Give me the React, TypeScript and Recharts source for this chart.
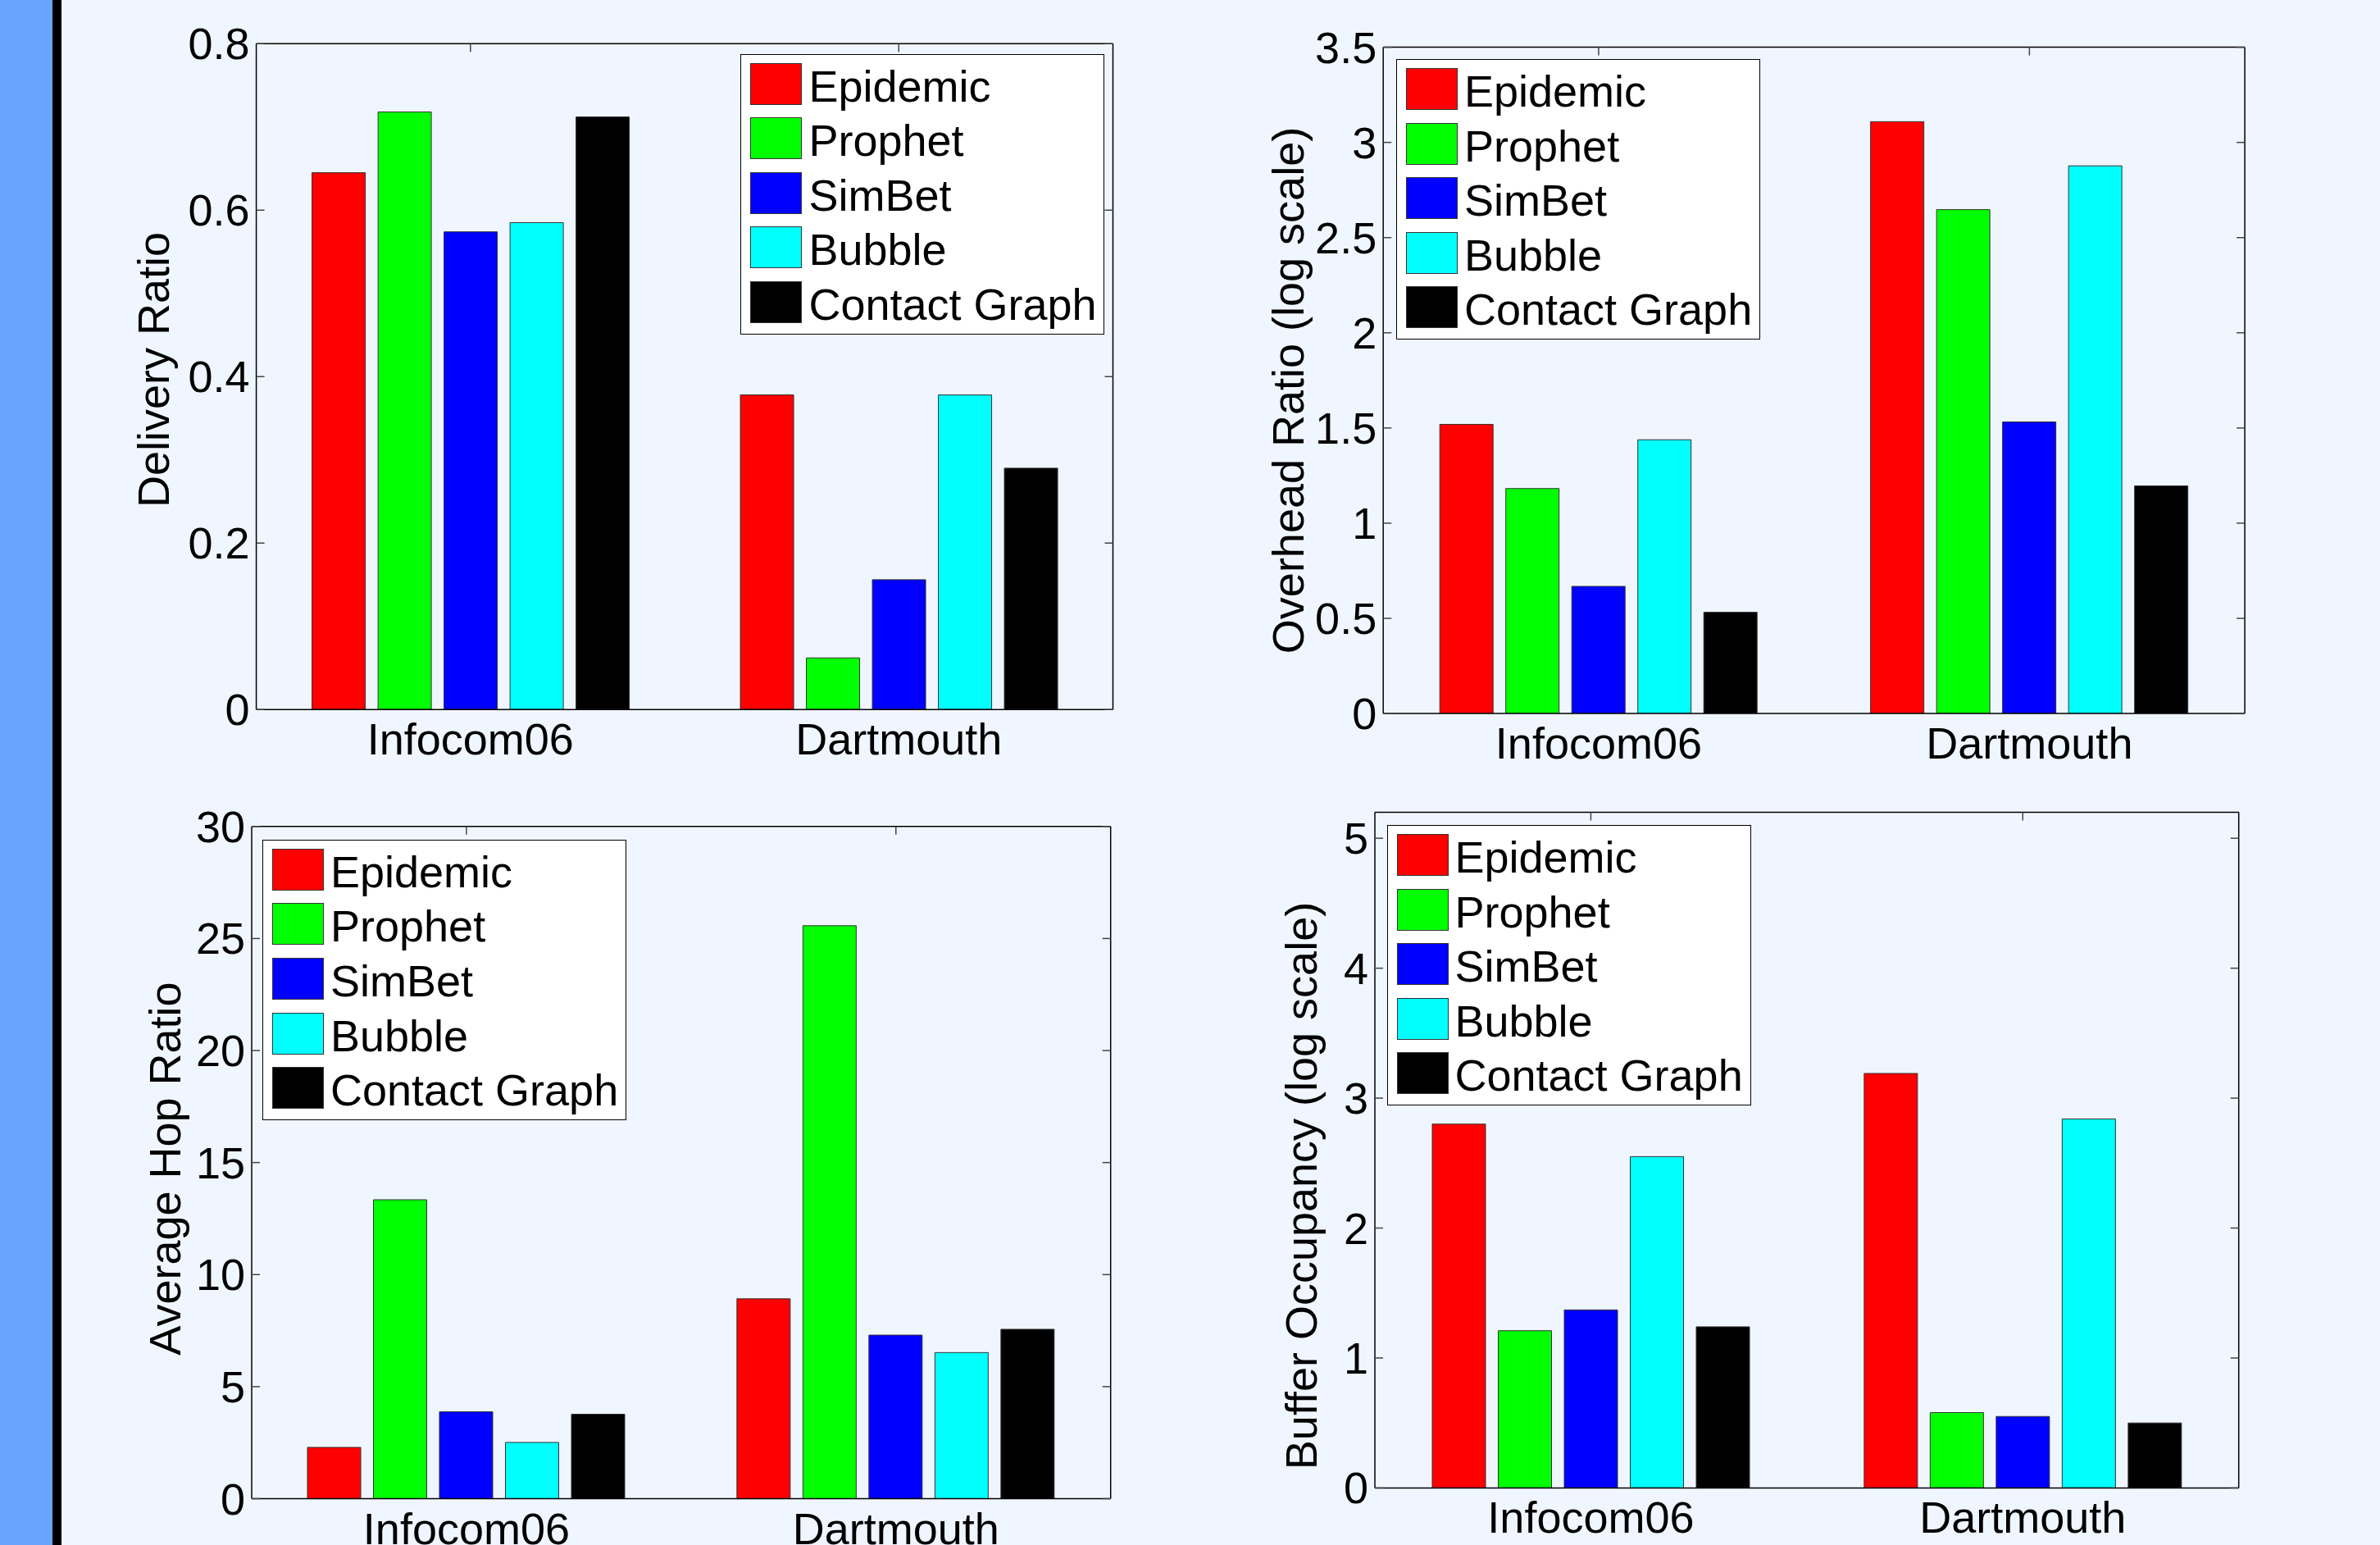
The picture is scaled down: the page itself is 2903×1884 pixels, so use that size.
import React from 'react';
import { BarChart, Bar, XAxis, YAxis, Legend } from 'recharts';

const categories = ['Infocom06', 'Dartmouth'];
const protocols = ['Epidemic', 'Prophet', 'SimBet', 'Bubble', 'Contact Graph'];
const protocolColors = ['#FF0000', '#00FF00', '#0000FF', '#00FFFF', '#000000'];

// one value per protocol, same order as protocols
const deliveryInfocom = [0.645, 0.718, 0.574, 0.585, 0.712];
const deliveryDartmouth = [0.378, 0.062, 0.156, 0.378, 0.29];
const overheadInfocom = [1.519, 1.182, 0.668, 1.438, 0.532];
const overheadDartmouth = [3.109, 2.647, 1.532, 2.877, 1.196];
const hopInfocom = [2.29, 13.34, 3.88, 2.51, 3.77];
const hopDartmouth = [8.92, 25.57, 7.3, 6.52, 7.56];
const bufferInfocom = [2.8, 1.21, 1.37, 2.55, 1.24];
const bufferDartmouth = [3.19, 0.58, 0.55, 2.84, 0.5];

const deliveryTicks = [0, 0.2, 0.4, 0.6, 0.8];
const overheadTicks = [0, 0.5, 1, 1.5, 2, 2.5, 3, 3.5];
const hopTicks = [0, 5, 10, 15, 20, 25, 30];
const bufferTicks = [0, 1, 2, 3, 4, 5];

const W = 2903;
const H = 1884;
const FONT = '"Liberation Sans", Arial, Helvetica, sans-serif';
const FS = 54;

const makeRows = (infocom: number[], dartmouth: number[]) =>
  categories.map((name, i) => {
    const vals = i === 0 ? infocom : dartmouth;
    const row: Record<string, any> = { name };
    protocols.forEach((_, j) => (row[`s${j}`] = vals[j]));
    return row;
  });

const panels = [
  {
    key: 'delivery',
    title: 'Delivery Ratio',
    rows: makeRows(deliveryInfocom, deliveryDartmouth),
    domain: [0, 0.8],
    ticks: deliveryTicks,
    plot: { l: 312.6, r: 1357.5, t: 53.3, b: 865.2 },
    legend: { x: 903.4, y: 65.5 },
    titlePos: { x: 205.5, y: 451 },
  },
  {
    key: 'overhead',
    title: 'Overhead Ratio (log scale)',
    rows: makeRows(overheadInfocom, overheadDartmouth),
    domain: [0, 3.5],
    ticks: overheadTicks,
    plot: { l: 1687.2, r: 2738.1, t: 57.6, b: 870.1 },
    legend: { x: 1703, y: 72.1 },
    titlePos: { x: 1589.5, y: 476 },
  },
  {
    key: 'hop',
    title: 'Average Hop Ratio',
    rows: makeRows(hopInfocom, hopDartmouth),
    domain: [0, 30],
    ticks: hopTicks,
    plot: { l: 307, r: 1354.7, t: 1007.8, b: 1827.5 },
    legend: { x: 320, y: 1023.9 },
    titlePos: { x: 220, y: 1425 },
  },
  {
    key: 'buffer',
    title: 'Buffer Occupancy (log scale)',
    rows: makeRows(bufferInfocom, bufferDartmouth),
    domain: [0, 5.2],
    ticks: bufferTicks,
    plot: { l: 1677, r: 2730.7, t: 990.5, b: 1814.4 },
    legend: { x: 1691.5, y: 1006 },
    titlePos: { x: 1605.5, y: 1446 },
  },
];

const axisLine = { stroke: '#000', strokeWidth: 1.5 };
const tickStroke = '#444';

const LeftTick = (props: any) => {
  const { x, y, payload } = props;
  return (
    <g>
      <line x1={x} x2={x + 10} y1={y} y2={y} stroke={tickStroke} strokeWidth={1.5} />
      <text x={x - 8} y={y + 19} textAnchor="end" fontSize={FS} fontFamily={FONT} fill="#000">
        {String(payload.value)}
      </text>
    </g>
  );
};

const RightTick = (props: any) => {
  const { x, y } = props;
  return <line x1={x} x2={x - 10} y1={y} y2={y} stroke={tickStroke} strokeWidth={1.5} />;
};

const TopTick = (props: any) => {
  const { x, y } = props;
  return <line x1={x} x2={x} y1={y} y2={y + 10} stroke={tickStroke} strokeWidth={1.5} />;
};

const BottomTick = (props: any) => {
  const { x, y, payload } = props;
  return (
    <text x={x} y={y + 55} textAnchor="middle" fontSize={FS} fontFamily={FONT} fill="#000">
      {payload.value}
    </text>
  );
};

const LegendBox = (props: any) => {
  // keep the series order of the figure, not the alphabetical one
  const payload = [...(props.payload || [])].sort(
    (a: any, b: any) => protocols.indexOf(a.value) - protocols.indexOf(b.value)
  );
  return (
    <div
      style={{
        boxSizing: 'border-box',
        width: 444,
        height: 342,
        background: '#fff',
        border: '1.5px solid #000',
        padding: '10px 0 0 11px',
        fontFamily: FONT,
      }}
    >
      {payload.map((e: any, i: number) => (
        <div key={i} style={{ display: 'flex', alignItems: 'center', height: 51, marginBottom: 15.6 }}>
          <span
            style={{
              display: 'inline-block',
              boxSizing: 'border-box',
              width: 63,
              height: 51,
              background: e.color || protocolColors[i],
              border: '1px solid #333',
            }}
          />
          <span
            style={{
              position: 'relative',
              top: 3,
              marginLeft: 8,
              fontSize: FS,
              lineHeight: '51px',
              color: '#000',
              whiteSpace: 'nowrap',
            }}
          >
            {e.value}
          </span>
        </div>
      ))}
    </div>
  );
};

const Panel = ({ cfg }: { cfg: (typeof panels)[number] }) => {
  const { plot } = cfg;
  const yW = 200;
  const xH = 50;
  const margin = {
    left: plot.l - yW,
    right: W - plot.r - 1,
    top: plot.t - 1,
    bottom: H - plot.b - xH,
  };
  const { x: tx, y: ty } = cfg.titlePos;
  return (
    <div style={{ position: 'absolute', left: 0, top: 0, width: W, height: H }}>
      <BarChart width={W} height={H} data={cfg.rows} margin={margin} barSize={65} barGap={15.5}>
        <XAxis
          xAxisId="b"
          dataKey="name"
          orientation="bottom"
          height={xH}
          axisLine={axisLine}
          tickLine={false}
          tickSize={0}
          tickMargin={0}
          interval={0}
          tick={<BottomTick />}
        />
        <XAxis
          xAxisId="t"
          dataKey="name"
          orientation="top"
          height={1}
          axisLine={axisLine}
          tickLine={false}
          tickSize={0}
          tickMargin={0}
          interval={0}
          tick={<TopTick />}
        />
        <YAxis
          yAxisId="l"
          type="number"
          width={yW}
          domain={cfg.domain}
          ticks={cfg.ticks}
          allowDataOverflow
          axisLine={axisLine}
          tickLine={false}
          tickSize={0}
          tickMargin={0}
          interval={0}
          tick={<LeftTick />}
          label={() => (
            <text
              x={tx}
              y={ty}
              transform={`rotate(-90 ${tx} ${ty})`}
              textAnchor="middle"
              fontSize={FS}
              fontFamily={FONT}
              fill="#000"
            >
              {cfg.title}
            </text>
          )}
        />
        <YAxis
          yAxisId="r"
          type="number"
          orientation="right"
          width={1}
          domain={cfg.domain}
          ticks={cfg.ticks}
          allowDataOverflow
          axisLine={axisLine}
          tickLine={false}
          tickSize={0}
          tickMargin={0}
          interval={0}
          tick={<RightTick />}
        />
        <Legend
          layout="vertical"
          align="center"
          verticalAlign="middle"
          wrapperStyle={{ left: cfg.legend.x, top: cfg.legend.y, width: 444, height: 342 }}
          content={<LegendBox />}
        />
        {protocols.map((p, j) => (
          <Bar
            key={p}
            xAxisId="b"
            yAxisId="l"
            dataKey={`s${j}`}
            name={p}
            fill={protocolColors[j]}
            stroke="#333"
            strokeWidth={1}
            isAnimationActive={false}
          />
        ))}
      </BarChart>
    </div>
  );
};

export default function App() {
  return (
    <div
      style={{
        position: 'absolute',
        left: 0,
        top: 0,
        width: W,
        height: H,
        background: '#F0F6FF',
        overflow: 'hidden',
      }}
    >
      <div style={{ position: 'absolute', left: 0, top: 0, width: 64, height: H, background: '#69A5FF' }} />
      <div style={{ position: 'absolute', left: 64, top: 0, width: 11, height: H, background: '#000' }} />
      {panels.map((cfg) => (
        <Panel key={cfg.key} cfg={cfg} />
      ))}
    </div>
  );
}
